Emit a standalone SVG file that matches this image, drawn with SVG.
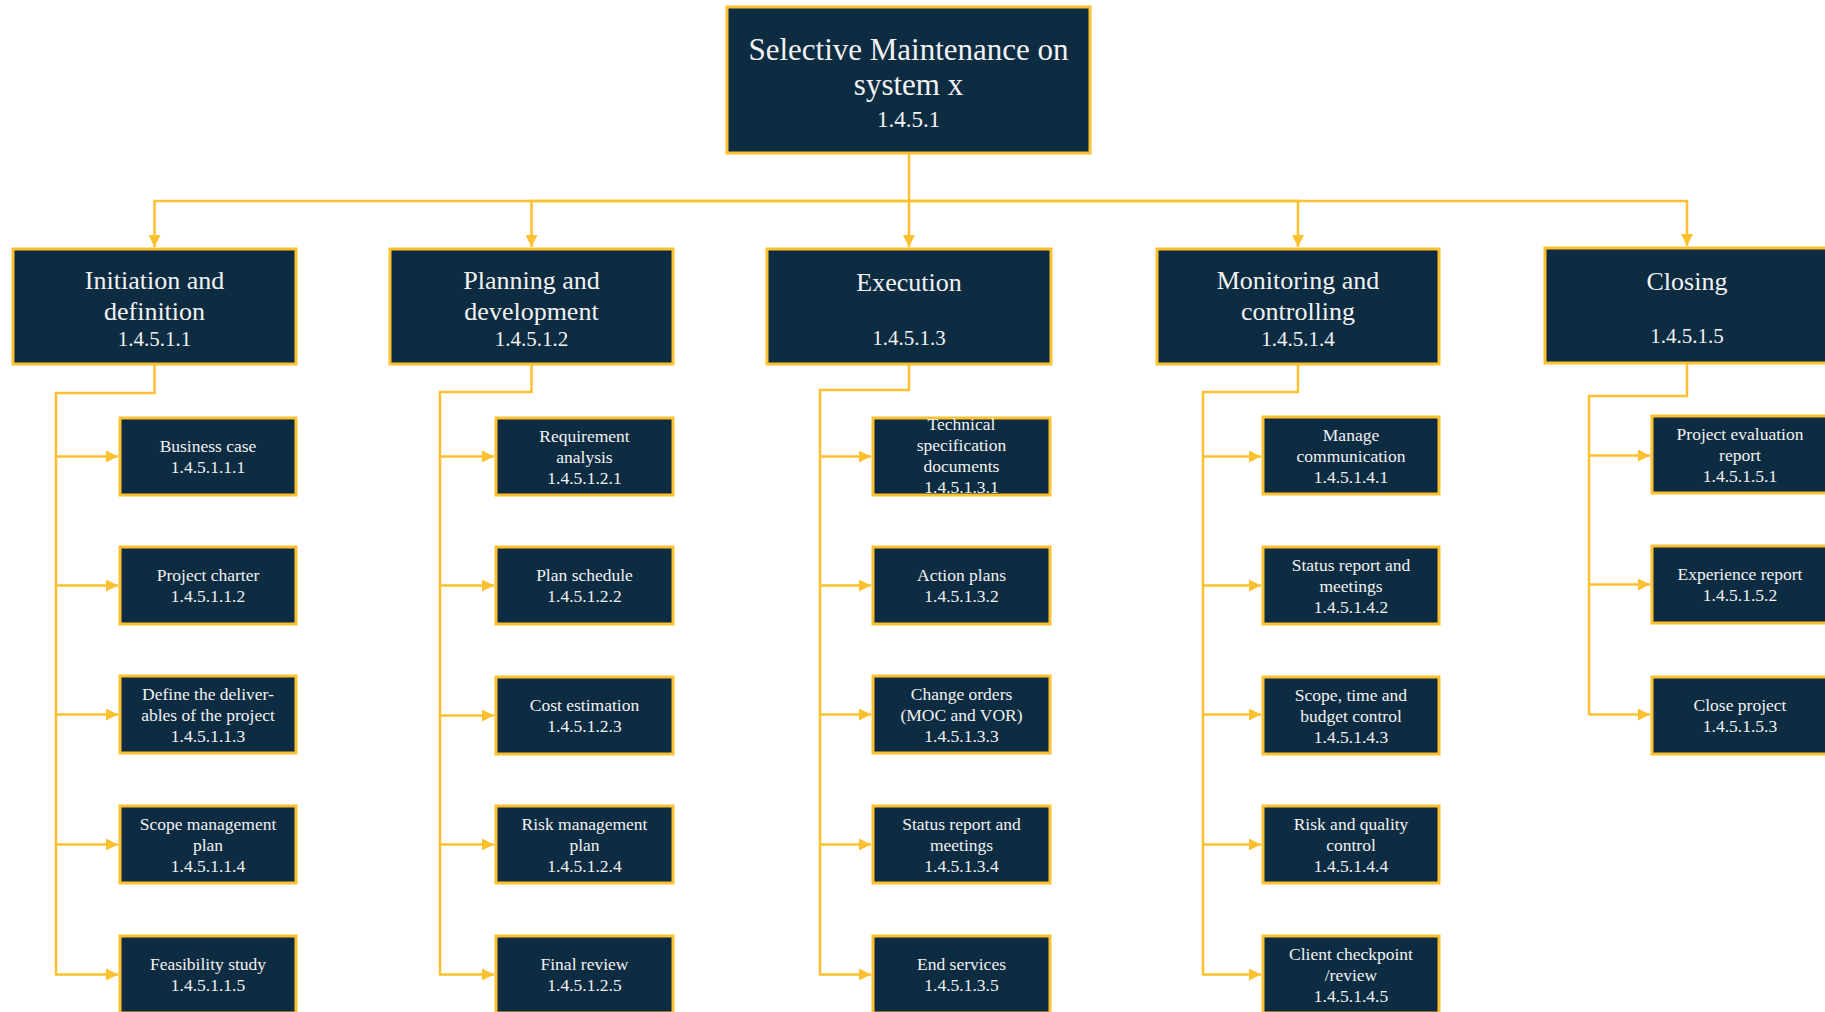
<svg xmlns="http://www.w3.org/2000/svg" width="1825" height="1012" viewBox="0 0 1825 1012">
<style>
.box{fill:#0d2c42;stroke:#fdc02f;stroke-width:3}
.t{font-family:"Liberation Serif","Times New Roman",serif;fill:#f2f2f2;text-anchor:middle}
.root{font-size:31px}
.rnum{font-size:23px}
.l1{font-size:26px}
.l1n{font-size:21px}
.c{font-size:17.5px}
.con{fill:none;stroke:#fdc02f;stroke-width:2.5}
</style>
<defs>
<marker id="ah" markerUnits="userSpaceOnUse" markerWidth="12" markerHeight="12" refX="12" refY="6" orient="auto">
<path d="M0,0 L12,6 L0,12 z" fill="#fdc02f"/>
</marker>
</defs>
<rect width="1825" height="1012" fill="#ffffff"/>
<g id="connectors">
<path class="con" d="M909,153 V247" marker-end="url(#ah)"/>
<path class="con" d="M909,201 H154.5 V247" marker-end="url(#ah)"/>
<path class="con" d="M909,201 H531.5 V247" marker-end="url(#ah)"/>
<path class="con" d="M909,201 H1298 V247" marker-end="url(#ah)"/>
<path class="con" d="M909,201 H1687 V246" marker-end="url(#ah)"/>
<path class="con" d="M154.5,364 V393 H56 V975.5"/>
<path class="con" d="M56,456.5 H118" marker-end="url(#ah)"/>
<path class="con" d="M56,585.5 H118" marker-end="url(#ah)"/>
<path class="con" d="M56,714.5 H118" marker-end="url(#ah)"/>
<path class="con" d="M56,844.5 H118" marker-end="url(#ah)"/>
<path class="con" d="M56,974.5 H118" marker-end="url(#ah)"/>
<path class="con" d="M531.5,364 V392 H440 V975.5"/>
<path class="con" d="M440,456.5 H494" marker-end="url(#ah)"/>
<path class="con" d="M440,585.5 H494" marker-end="url(#ah)"/>
<path class="con" d="M440,715.5 H494" marker-end="url(#ah)"/>
<path class="con" d="M440,844.5 H494" marker-end="url(#ah)"/>
<path class="con" d="M440,974.5 H494" marker-end="url(#ah)"/>
<path class="con" d="M909,364 V390 H820 V975.5"/>
<path class="con" d="M820,456.5 H871" marker-end="url(#ah)"/>
<path class="con" d="M820,585.5 H871" marker-end="url(#ah)"/>
<path class="con" d="M820,714.5 H871" marker-end="url(#ah)"/>
<path class="con" d="M820,844.5 H871" marker-end="url(#ah)"/>
<path class="con" d="M820,974.5 H871" marker-end="url(#ah)"/>
<path class="con" d="M1298,364 V392 H1203 V975.5"/>
<path class="con" d="M1203,456.5 H1261" marker-end="url(#ah)"/>
<path class="con" d="M1203,585.5 H1261" marker-end="url(#ah)"/>
<path class="con" d="M1203,714.5 H1261" marker-end="url(#ah)"/>
<path class="con" d="M1203,844.5 H1261" marker-end="url(#ah)"/>
<path class="con" d="M1203,974.5 H1261" marker-end="url(#ah)"/>
<path class="con" d="M1687,363 V396 H1589 V715"/>
<path class="con" d="M1589,455.5 H1650" marker-end="url(#ah)"/>
<path class="con" d="M1589,584.5 H1650" marker-end="url(#ah)"/>
<path class="con" d="M1589,714.5 H1650" marker-end="url(#ah)"/>
</g>
<g id="root">
<rect class="box" x="727" y="7" width="363" height="146"/>
<text class="t root" x="908.5" y="60">Selective Maintenance on</text>
<text class="t root" x="908.5" y="95">system x</text>
<text class="t rnum" x="908.5" y="127">1.4.5.1</text>
</g>
<g id="n1">
<rect class="box" x="13" y="249" width="283" height="115"/>
<text class="t l1" x="154.5" y="289">Initiation and</text>
<text class="t l1" x="154.5" y="320">definition</text>
<text class="t l1n" x="154.5" y="346">1.4.5.1.1</text>
</g>
<g id="n2">
<rect class="box" x="390" y="249" width="283" height="115"/>
<text class="t l1" x="531.5" y="289">Planning and</text>
<text class="t l1" x="531.5" y="320">development</text>
<text class="t l1n" x="531.5" y="346">1.4.5.1.2</text>
</g>
<g id="n3">
<rect class="box" x="767" y="249" width="284" height="115"/>
<text class="t l1" x="909" y="291">Execution</text>
<text class="t l1n" x="909" y="345">1.4.5.1.3</text>
</g>
<g id="n4">
<rect class="box" x="1157" y="249" width="282" height="115"/>
<text class="t l1" x="1298" y="289">Monitoring and</text>
<text class="t l1" x="1298" y="320">controlling</text>
<text class="t l1n" x="1298" y="346">1.4.5.1.4</text>
</g>
<g id="n5">
<rect class="box" x="1545" y="248" width="284" height="115"/>
<text class="t l1" x="1687" y="290">Closing</text>
<text class="t l1n" x="1687" y="343">1.4.5.1.5</text>
</g>
<g id="n11"><rect class="box" x="120" y="418" width="176" height="77"/><text class="t c" x="208" y="452">Business case<tspan x="208" dy="21">1.4.5.1.1.1</tspan></text></g>
<g id="n12"><rect class="box" x="120" y="547" width="176" height="77"/><text class="t c" x="208" y="581">Project charter<tspan x="208" dy="21">1.4.5.1.1.2</tspan></text></g>
<g id="n13"><rect class="box" x="120" y="676" width="176" height="77"/><text class="t c" x="208" y="699.5">Define the deliver-<tspan x="208" dy="21">ables of the project</tspan><tspan x="208" dy="21">1.4.5.1.1.3</tspan></text></g>
<g id="n14"><rect class="box" x="120" y="806" width="176" height="77"/><text class="t c" x="208" y="829.5">Scope management<tspan x="208" dy="21">plan</tspan><tspan x="208" dy="21">1.4.5.1.1.4</tspan></text></g>
<g id="n15"><rect class="box" x="120" y="936" width="176" height="77"/><text class="t c" x="208" y="970">Feasibility study<tspan x="208" dy="21">1.4.5.1.1.5</tspan></text></g>
<g id="n21"><rect class="box" x="496" y="418" width="177" height="77"/><text class="t c" x="584.5" y="441.5">Requirement<tspan x="584.5" dy="21">analysis</tspan><tspan x="584.5" dy="21">1.4.5.1.2.1</tspan></text></g>
<g id="n22"><rect class="box" x="496" y="547" width="177" height="77"/><text class="t c" x="584.5" y="581">Plan schedule<tspan x="584.5" dy="21">1.4.5.1.2.2</tspan></text></g>
<g id="n23"><rect class="box" x="496" y="677" width="177" height="77"/><text class="t c" x="584.5" y="711">Cost estimation<tspan x="584.5" dy="21">1.4.5.1.2.3</tspan></text></g>
<g id="n24"><rect class="box" x="496" y="806" width="177" height="77"/><text class="t c" x="584.5" y="829.5">Risk management<tspan x="584.5" dy="21">plan</tspan><tspan x="584.5" dy="21">1.4.5.1.2.4</tspan></text></g>
<g id="n25"><rect class="box" x="496" y="936" width="177" height="77"/><text class="t c" x="584.5" y="970">Final review<tspan x="584.5" dy="21">1.4.5.1.2.5</tspan></text></g>
<g id="n31"><rect class="box" x="873" y="418" width="177" height="77"/><text class="t c" x="961.5" y="430">Technical<tspan x="961.5" dy="21">specification</tspan><tspan x="961.5" dy="21">documents</tspan><tspan x="961.5" dy="21">1.4.5.1.3.1</tspan></text></g>
<g id="n32"><rect class="box" x="873" y="547" width="177" height="77"/><text class="t c" x="961.5" y="581">Action plans<tspan x="961.5" dy="21">1.4.5.1.3.2</tspan></text></g>
<g id="n33"><rect class="box" x="873" y="676" width="177" height="77"/><text class="t c" x="961.5" y="699.5">Change orders<tspan x="961.5" dy="21">(MOC and VOR)</tspan><tspan x="961.5" dy="21">1.4.5.1.3.3</tspan></text></g>
<g id="n34"><rect class="box" x="873" y="806" width="177" height="77"/><text class="t c" x="961.5" y="829.5">Status report and<tspan x="961.5" dy="21">meetings</tspan><tspan x="961.5" dy="21">1.4.5.1.3.4</tspan></text></g>
<g id="n35"><rect class="box" x="873" y="936" width="177" height="77"/><text class="t c" x="961.5" y="970">End services<tspan x="961.5" dy="21">1.4.5.1.3.5</tspan></text></g>
<g id="n41"><rect class="box" x="1263" y="417" width="176" height="77"/><text class="t c" x="1351" y="440.5">Manage<tspan x="1351" dy="21">communication</tspan><tspan x="1351" dy="21">1.4.5.1.4.1</tspan></text></g>
<g id="n42"><rect class="box" x="1263" y="547" width="176" height="77"/><text class="t c" x="1351" y="570.5">Status report and<tspan x="1351" dy="21">meetings</tspan><tspan x="1351" dy="21">1.4.5.1.4.2</tspan></text></g>
<g id="n43"><rect class="box" x="1263" y="677" width="176" height="77"/><text class="t c" x="1351" y="700.5">Scope, time and<tspan x="1351" dy="21">budget control</tspan><tspan x="1351" dy="21">1.4.5.1.4.3</tspan></text></g>
<g id="n44"><rect class="box" x="1263" y="806" width="176" height="77"/><text class="t c" x="1351" y="829.5">Risk and quality<tspan x="1351" dy="21">control</tspan><tspan x="1351" dy="21">1.4.5.1.4.4</tspan></text></g>
<g id="n45"><rect class="box" x="1263" y="936" width="176" height="77"/><text class="t c" x="1351" y="959.5">Client checkpoint<tspan x="1351" dy="21">/review</tspan><tspan x="1351" dy="21">1.4.5.1.4.5</tspan></text></g>
<g id="n51"><rect class="box" x="1652" y="416" width="177" height="77"/><text class="t c" x="1740" y="439.5">Project evaluation<tspan x="1740" dy="21">report</tspan><tspan x="1740" dy="21">1.4.5.1.5.1</tspan></text></g>
<g id="n52"><rect class="box" x="1652" y="546" width="177" height="77"/><text class="t c" x="1740" y="580">Experience report<tspan x="1740" dy="21">1.4.5.1.5.2</tspan></text></g>
<g id="n53"><rect class="box" x="1652" y="677" width="177" height="77"/><text class="t c" x="1740" y="711">Close project<tspan x="1740" dy="21">1.4.5.1.5.3</tspan></text></g>
</svg>
